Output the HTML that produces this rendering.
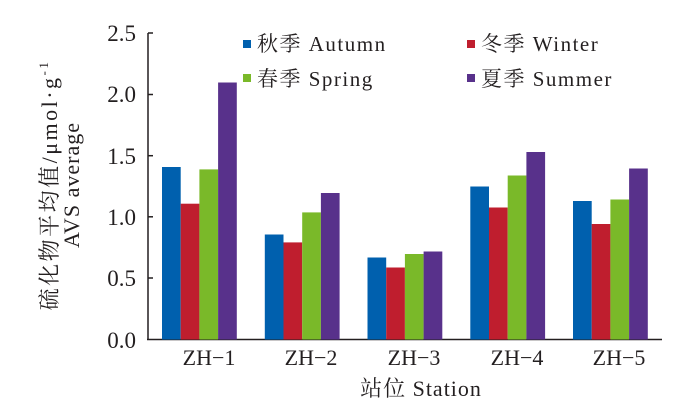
<!DOCTYPE html>
<html><head><meta charset="utf-8"><style>
body{margin:0;background:#fff}
text{font-family:"Liberation Serif","Noto Serif CJK SC",serif;fill:#231f20}
</style></head><body>
<svg width="700" height="403" xmlns="http://www.w3.org/2000/svg">
<g font-size="23" text-anchor="end">
<text x="136" y="41">2.5</text>
<text x="136" y="102">2.0</text>
<text x="136" y="164">1.5</text>
<text x="136" y="225">1.0</text>
<text x="136" y="286">0.5</text>
<text x="136" y="348">0.0</text>
</g>
<g stroke="#231f20" stroke-width="1.5">
<line x1="148" y1="33" x2="148" y2="339.5"/>
<line x1="147" y1="339.5" x2="662" y2="339.5"/>
<line x1="148" y1="33" x2="153" y2="33"/>
<line x1="148" y1="94.5" x2="153" y2="94.5"/>
<line x1="148" y1="155.7" x2="153" y2="155.7"/>
<line x1="148" y1="216.8" x2="153" y2="216.8"/>
<line x1="148" y1="278" x2="153" y2="278"/>
</g>
<g font-size="22" text-anchor="middle">
<text x="209" y="365">ZH−1</text>
<text x="311" y="365">ZH−2</text>
<text x="414" y="365">ZH−3</text>
<text x="517" y="365">ZH−4</text>
<text x="619" y="365">ZH−5</text>
<text x="421" y="396" letter-spacing="1">站位 Station</text>
</g>
<g font-size="22" text-anchor="middle">
<text transform="translate(57,185) rotate(-90)" letter-spacing="2.5">硫化物平均值/μmol·g<tspan dy="-9" font-size="13">-1</tspan></text>
<text transform="translate(79,185) rotate(-90)" letter-spacing="1">AVS average</text>
</g>
<g font-size="21" letter-spacing="1.5">
<rect x="243" y="40" width="8" height="8" fill="#0060ae"/><text x="257" y="51">秋季 Autumn</text>
<rect x="467" y="40" width="8" height="8" fill="#bf1e2e"/><text x="481" y="51">冬季 Winter</text>
<rect x="243" y="74" width="8" height="8" fill="#7ab929"/><text x="257" y="86">春季 Spring</text>
<rect x="467" y="74" width="8" height="8" fill="#58318b"/><text x="481" y="86">夏季 Summer</text>
</g>
<g>
<rect x="162" y="167.0" width="18.7" height="172.5" fill="#0060ae"/>
<rect x="180.7" y="203.7" width="18.7" height="135.8" fill="#bf1e2e"/>
<rect x="199.4" y="169.4" width="18.7" height="170.1" fill="#7ab929"/>
<rect x="218.1" y="82.5" width="18.7" height="257" fill="#58318b"/>

<rect x="264.8" y="234.5" width="18.7" height="105" fill="#0060ae"/>
<rect x="283.5" y="242.4" width="18.7" height="97.1" fill="#bf1e2e"/>
<rect x="302.2" y="212.4" width="18.7" height="127.1" fill="#7ab929"/>
<rect x="320.9" y="193.0" width="18.7" height="146.5" fill="#58318b"/>

<rect x="367.5" y="257.5" width="18.7" height="82" fill="#0060ae"/>
<rect x="386.2" y="267.5" width="18.7" height="72" fill="#bf1e2e"/>
<rect x="404.9" y="254.0" width="18.7" height="85.5" fill="#7ab929"/>
<rect x="423.6" y="251.5" width="18.7" height="88" fill="#58318b"/>

<rect x="470.3" y="186.5" width="18.7" height="153" fill="#0060ae"/>
<rect x="489" y="207.5" width="18.7" height="132" fill="#bf1e2e"/>
<rect x="507.7" y="175.5" width="18.7" height="164" fill="#7ab929"/>
<rect x="526.4" y="152.0" width="18.7" height="187.5" fill="#58318b"/>

<rect x="573" y="201.0" width="18.7" height="138.5" fill="#0060ae"/>
<rect x="591.7" y="224.0" width="18.7" height="115.5" fill="#bf1e2e"/>
<rect x="610.4" y="199.5" width="18.7" height="140" fill="#7ab929"/>
<rect x="629.1" y="168.5" width="18.7" height="171" fill="#58318b"/>
</g>
</svg>
</body></html>
